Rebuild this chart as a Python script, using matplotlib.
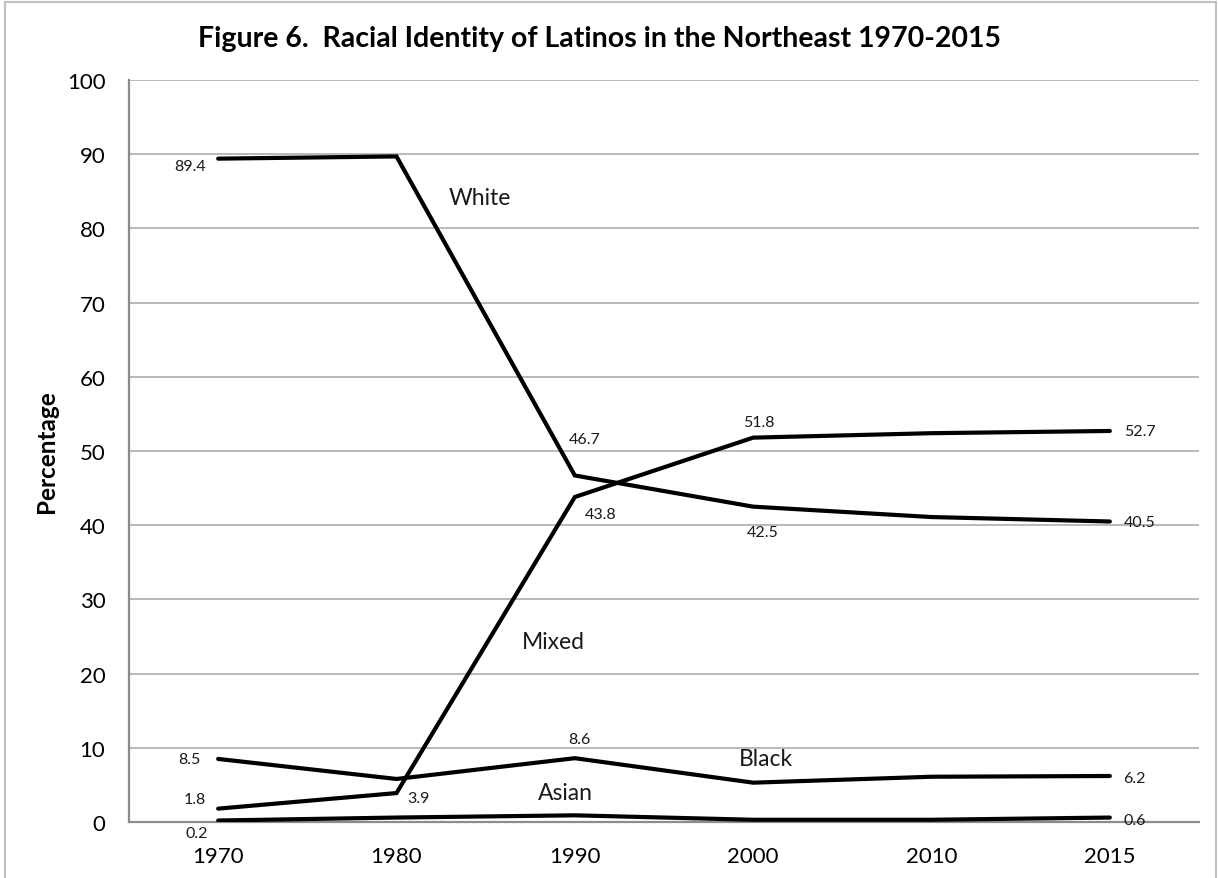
import matplotlib
matplotlib.use("Agg")
import matplotlib.pyplot as plt
from matplotlib.lines import Line2D

plt.rcParams["font.family"] = ["Lato", "DejaVu Sans"]

years = ["1970", "1980", "1990", "2000", "2010", "2015"]
white = [89.4, 89.7, 46.7, 42.5, 41.1, 40.5]
mixed = [1.8, 3.9, 43.8, 51.8, 52.4, 52.7]
black = [8.5, 5.8, 8.6, 5.3, 6.1, 6.2]
asian = [0.2, 0.6, 0.9, 0.3, 0.3, 0.6]

# which points carry a value label, and the pixel offset of that label
white_lab = {0: (-28, -7), 2: (10, 36), 3: (10, -25), 5: (30, -1)}
mixed_lab = {0: (-23, 10), 1: (22, -5), 2: (26, -17), 3: (6, 16), 5: (30, 0)}
black_lab = {0: (-29, 0), 2: (5, 19), 5: (25, -2)}
asian_lab = {0: (-21, -12), 5: (25, -2)}

series = [("White", white, white_lab, (1.47, 84.2)),
          ("Mixed", mixed, mixed_lab, (1.88, 24.3)),
          ("Black", black, black_lab, (3.07, 8.6)),
          ("Asian", asian, asian_lab, (1.95, 4.0))]

W, H = 1218, 879
fig = plt.figure(figsize=(W / 100, H / 100), dpi=100)
ax = fig.add_axes([129 / W, (H - 823) / H, (1199 - 129) / W, (823 - 81) / H])

x = list(range(len(years)))
for name, vals, labs, pos in series:
    ax.plot(x, vals, color="black", lw=3, solid_capstyle="round", solid_joinstyle="miter", zorder=3)
    for i, (dx, dy) in labs.items():
        ax.annotate(f"{vals[i]:.1f}", (x[i], vals[i]), xytext=(dx, dy), textcoords="offset pixels",
                    ha="center", va="center", fontsize=11.5, color="#1a1a1a", zorder=4)
    ax.text(pos[0], pos[1], name, ha="center", va="center", fontsize=16.5, color="#1a1a1a", zorder=4)

ax.set_xlim(-0.5, len(years) - 0.5)
ax.set_ylim(0, 100)
ax.set_xticks(x)
ax.set_xticklabels(years)
ax.set_yticks(range(0, 101, 10))
ax.tick_params(axis="both", length=0, labelsize=16, colors="black")
ax.tick_params(axis="y", pad=17)
ax.tick_params(axis="x", pad=17.5)
ax.grid(axis="y", color="#a6a6a6", lw=1.1)
ax.set_axisbelow(True)
for s in ["top", "right"]:
    ax.spines[s].set_visible(False)
for s in ["left", "bottom"]:
    ax.spines[s].set_color("#8c8c8c")
    ax.spines[s].set_linewidth(1.6)
ax.spines["bottom"].set_zorder(2)

fig.text(47 / W, 1 - 452 / H, "Percentage", rotation=90, ha="center", va="center",
         fontsize=17.5, fontweight="bold")
fig.text(600 / W, 1 - 39 / H, "Figure 6.  Racial Identity of Latinos in the Northeast 1970-2015",
         ha="center", va="center", fontsize=20.5, fontweight="bold")

# chart-area border
bc = "#c0c0c0"
fig.add_artist(Line2D([5 / W, 5 / W], [0, 1 - 3 / H], color=bc, lw=1.5))
fig.add_artist(Line2D([1216 / W, 1216 / W], [0, 1 - 3 / H], color=bc, lw=1.5))
fig.add_artist(Line2D([5 / W, 1216 / W], [1 - 3 / H, 1 - 3 / H], color=bc, lw=1.5))

fig.savefig("out.png", dpi=100)
